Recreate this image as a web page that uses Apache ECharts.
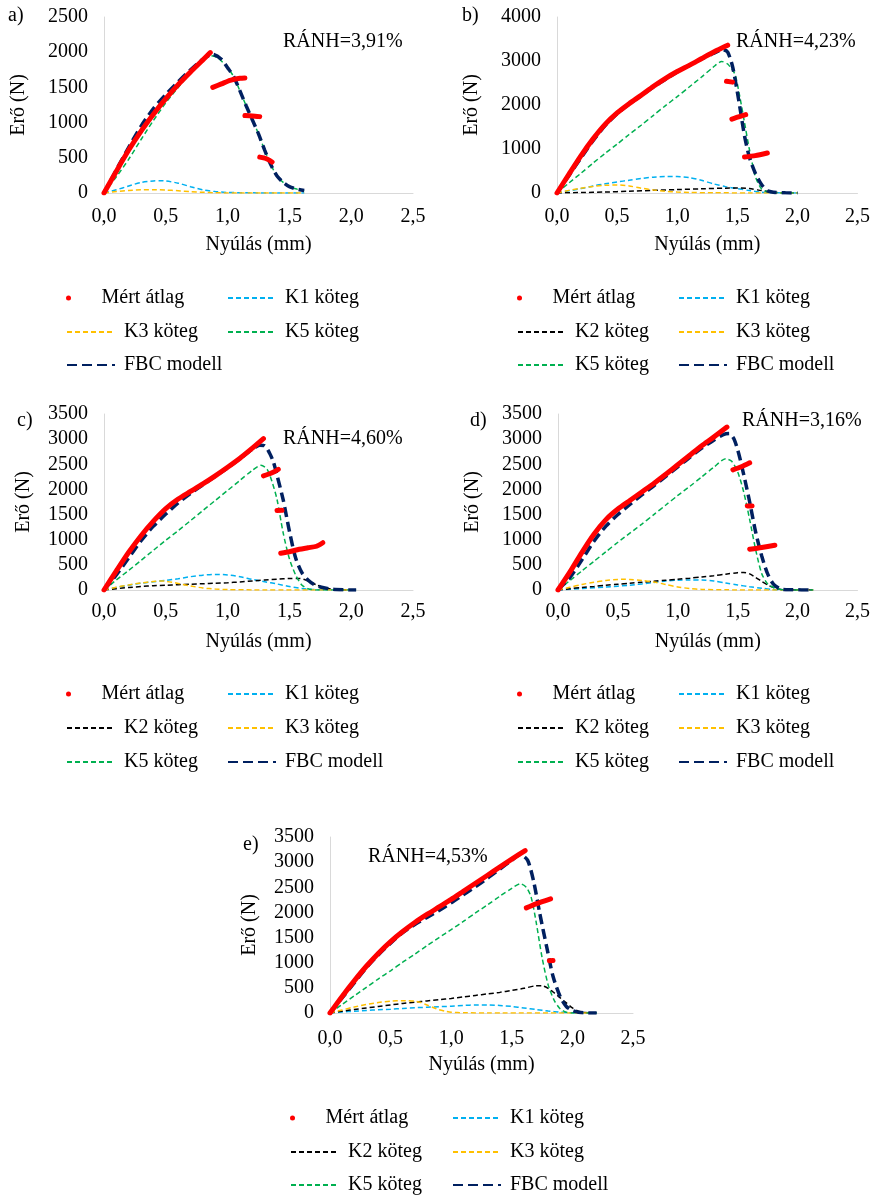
<!DOCTYPE html>
<html><head><meta charset="utf-8">
<script src="https://cdn.jsdelivr.net/npm/echarts@6/dist/echarts.min.js"></script>
<style>html,body{margin:0;padding:0;background:#fff}#c{width:873px;height:1198px}</style>
</head><body><div id="c"></div>
<script>
// ---------- DATA (x: Nyúlás mm, y: Erő N) ----------
const SERIES_NAMES = ['Mért átlag','K1 köteg','K2 köteg','K3 köteg','K5 köteg','FBC modell'];
const PANEL_LABELS = ['a)','b)','c)','d)','e)'];
const RANH_LABELS = ['RÁNH=3,91%','RÁNH=4,23%','RÁNH=4,60%','RÁNH=3,16%','RÁNH=4,53%'];
const X_MAX = 2.5, X_STEP = 0.5;
const Y_MAX = [2500, 4000, 3500, 3500, 3500];
const Y_STEP = [500, 1000, 500, 500, 500];

// Panel a
const A_MERT = [
  [[0,0],[0.1,310],[0.2,610],[0.3,880],[0.4,1120],[0.5,1340],[0.6,1540],[0.7,1720],[0.8,1890],[0.86,1995]],
  [[0.88,1500],[0.95,1550],[1.02,1600],[1.1,1630],[1.14,1635]],
  [[1.14,1100],[1.2,1095],[1.26,1085]],
  [[1.26,510],[1.31,490],[1.36,440]]
];
const A_K1 = [[0,0],[0.1,45],[0.2,100],[0.3,150],[0.4,172],[0.45,175],[0.5,170],[0.6,140],[0.7,90],[0.8,45],[0.9,20],[1.0,8],[1.2,2],[1.62,0]];
const A_K3 = [[0,0],[0.1,20],[0.2,35],[0.3,45],[0.4,47],[0.5,42],[0.6,32],[0.7,20],[0.8,10],[0.9,4],[1.0,1],[1.62,0]];
const A_K5 = [[0,0],[0.1,230],[0.2,480],[0.3,760],[0.4,1030],[0.5,1280],[0.6,1500],[0.7,1700],[0.8,1880],[0.86,1950],[0.92,1920],[1.0,1780],[1.05,1650],[1.1,1450],[1.15,1240],[1.2,1040],[1.25,840],[1.3,610],[1.35,400],[1.4,240],[1.45,150],[1.5,90],[1.56,55],[1.62,30]];
const A_FBC = [[0,0],[0.1,330],[0.2,650],[0.3,950],[0.4,1200],[0.5,1400],[0.6,1580],[0.7,1750],[0.8,1900],[0.88,1970],[0.95,1900],[1.0,1780],[1.05,1650],[1.1,1450],[1.15,1240],[1.2,1040],[1.25,840],[1.3,610],[1.35,400],[1.4,240],[1.45,150],[1.5,90],[1.56,55],[1.62,35]];

// Panel b
const B_MERT = [
  [[0,0],[0.1,430],[0.2,850],[0.3,1230],[0.4,1560],[0.5,1820],[0.6,2030],[0.7,2220],[0.8,2420],[0.9,2600],[1.0,2760],[1.1,2900],[1.2,3050],[1.3,3200],[1.42,3360]],
  [[1.41,2540],[1.46,2520]],
  [[1.455,1680],[1.51,1730],[1.57,1780]],
  [[1.56,820],[1.65,850],[1.75,910]]
];
const B_K1 = [[0,0],[0.1,50],[0.2,100],[0.3,160],[0.4,210],[0.5,250],[0.6,290],[0.7,330],[0.8,360],[0.9,375],[1.0,375],[1.1,350],[1.2,290],[1.3,210],[1.4,145],[1.5,100],[1.6,55],[1.7,20],[1.8,5],[2.0,0]];
const B_K2 = [[0,0],[0.2,10],[0.4,22],[0.6,40],[0.8,60],[1.0,78],[1.2,95],[1.4,110],[1.5,114],[1.6,100],[1.7,55],[1.8,15],[1.9,3],[2.0,0]];
const B_K3 = [[0,0],[0.1,60],[0.2,110],[0.3,150],[0.4,175],[0.5,182],[0.6,160],[0.7,110],[0.8,70],[0.9,40],[1.0,22],[1.1,12],[1.3,5],[1.6,1],[2.0,0]];
const B_K5 = [[0,0],[0.1,230],[0.2,450],[0.3,680],[0.4,900],[0.5,1110],[0.6,1330],[0.7,1540],[0.8,1760],[0.9,1980],[1.0,2190],[1.1,2410],[1.2,2630],[1.3,2860],[1.37,2990],[1.42,2930],[1.48,2700],[1.52,2200],[1.56,1600],[1.6,1000],[1.65,380],[1.7,100],[1.75,30],[1.8,10],[1.85,0],[2.0,0]];
const B_FBC = [[0,0],[0.1,400],[0.2,800],[0.3,1190],[0.4,1530],[0.5,1800],[0.6,2020],[0.7,2210],[0.8,2400],[0.9,2580],[1.0,2750],[1.1,2900],[1.2,3040],[1.3,3170],[1.38,3260],[1.42,3200],[1.46,2880],[1.5,2300],[1.53,1800],[1.56,1300],[1.6,820],[1.65,450],[1.7,200],[1.75,50],[1.8,18],[1.9,5],[2.0,0]];

// Panel c
const C_MERT = [
  [[0,0],[0.1,380],[0.2,750],[0.3,1080],[0.4,1370],[0.5,1620],[0.6,1810],[0.7,1960],[0.8,2110],[0.9,2270],[1.0,2440],[1.1,2620],[1.2,2820],[1.29,3010]],
  [[1.29,2270],[1.35,2320],[1.41,2400]],
  [[1.40,1580],[1.44,1585]],
  [[1.43,730],[1.5,760],[1.58,810],[1.65,840],[1.72,870],[1.77,940]]
];
const C_K1 = [[0,0],[0.1,50],[0.2,95],[0.3,135],[0.4,165],[0.5,190],[0.6,225],[0.7,265],[0.8,295],[0.9,310],[1.0,300],[1.1,265],[1.2,210],[1.3,165],[1.4,120],[1.5,70],[1.6,30],[1.7,8],[1.8,0],[2.04,0]];
const C_K2 = [[0,0],[0.1,25],[0.2,50],[0.3,70],[0.4,85],[0.5,95],[0.6,105],[0.7,115],[0.8,125],[0.9,135],[1.0,145],[1.1,160],[1.2,180],[1.3,200],[1.4,215],[1.5,228],[1.58,230],[1.65,180],[1.72,100],[1.8,35],[1.9,5],[2.04,0]];
const C_K3 = [[0,0],[0.1,55],[0.2,100],[0.3,140],[0.4,170],[0.45,180],[0.5,175],[0.6,130],[0.7,80],[0.8,40],[0.9,18],[1.0,8],[1.2,2],[2.04,0]];
const C_K5 = [[0,0],[0.1,200],[0.2,390],[0.3,590],[0.4,790],[0.5,990],[0.6,1180],[0.7,1380],[0.8,1580],[0.9,1780],[1.0,1980],[1.1,2180],[1.2,2380],[1.27,2480],[1.32,2400],[1.36,2150],[1.4,1800],[1.45,1130],[1.5,620],[1.55,300],[1.6,100],[1.65,25],[1.72,0],[2.04,0]];
const C_FBC = [[0,0],[0.1,300],[0.2,640],[0.3,980],[0.4,1270],[0.5,1510],[0.6,1730],[0.7,1920],[0.8,2090],[0.9,2260],[1.0,2430],[1.1,2610],[1.2,2800],[1.26,2880],[1.3,2870],[1.34,2720],[1.37,2550],[1.4,2280],[1.45,1790],[1.5,1170],[1.55,640],[1.6,350],[1.65,200],[1.7,110],[1.75,60],[1.85,15],[1.95,3],[2.04,0]];

// Panel d
const D_MERT = [
  [[0,0],[0.1,360],[0.2,750],[0.3,1110],[0.4,1400],[0.5,1610],[0.6,1780],[0.7,1950],[0.8,2120],[0.9,2300],[1.0,2490],[1.1,2680],[1.2,2870],[1.3,3040],[1.41,3240]],
  [[1.46,2390],[1.53,2450],[1.6,2530]],
  [[1.58,1670],[1.62,1672]],
  [[1.6,810],[1.7,845],[1.81,890]]
];
const D_K1 = [[0,0],[0.2,30],[0.4,60],[0.6,95],[0.8,150],[0.9,180],[1.0,195],[1.1,200],[1.2,198],[1.3,180],[1.4,140],[1.5,100],[1.6,65],[1.7,35],[1.8,10],[1.9,0],[2.13,0]];
const D_K2 = [[0,0],[0.1,25],[0.2,50],[0.3,70],[0.4,95],[0.5,115],[0.6,135],[0.7,155],[0.8,175],[0.9,195],[1.0,215],[1.1,235],[1.2,260],[1.3,285],[1.4,315],[1.5,345],[1.55,350],[1.6,320],[1.65,250],[1.7,170],[1.75,100],[1.8,50],[1.85,15],[1.9,0],[2.13,0]];
const D_K3 = [[0,0],[0.1,55],[0.2,110],[0.3,155],[0.4,190],[0.5,210],[0.55,215],[0.6,210],[0.7,190],[0.8,160],[0.9,110],[1.0,60],[1.1,30],[1.2,12],[1.4,3],[2.13,0]];
const D_K5 = [[0,0],[0.1,190],[0.2,380],[0.3,570],[0.4,760],[0.5,950],[0.6,1130],[0.7,1310],[0.8,1500],[0.9,1690],[1.0,1880],[1.1,2060],[1.2,2250],[1.3,2440],[1.4,2610],[1.45,2560],[1.5,2350],[1.55,1950],[1.6,1400],[1.65,800],[1.7,330],[1.75,120],[1.8,50],[1.88,5],[2.13,0]];
const D_FBC = [[0,0],[0.1,250],[0.2,600],[0.3,970],[0.4,1270],[0.5,1500],[0.6,1700],[0.7,1890],[0.8,2070],[0.9,2260],[1.0,2450],[1.1,2640],[1.2,2820],[1.3,2980],[1.38,3090],[1.43,3110],[1.47,3000],[1.51,2700],[1.56,2190],[1.6,1750],[1.65,1150],[1.7,680],[1.75,320],[1.8,110],[1.86,20],[1.95,5],[2.13,0]];

// Panel e
const E_MERT = [
  [[0,0],[0.1,330],[0.2,640],[0.3,930],[0.4,1190],[0.5,1420],[0.6,1620],[0.7,1800],[0.8,1960],[0.9,2110],[1.0,2260],[1.1,2420],[1.2,2580],[1.3,2740],[1.4,2900],[1.5,3060],[1.61,3230]],
  [[1.62,2090],[1.7,2170],[1.82,2270]],
  [[1.81,1040],[1.84,1045]]
];
const E_K1 = [[0,0],[0.1,20],[0.2,35],[0.3,50],[0.4,65],[0.5,75],[0.6,90],[0.7,105],[0.8,115],[0.9,125],[1.0,135],[1.1,150],[1.2,160],[1.3,160],[1.4,150],[1.5,130],[1.6,100],[1.7,70],[1.8,40],[1.9,15],[2.0,3],[2.2,0]];
const E_K2 = [[0,0],[0.1,35],[0.2,70],[0.3,100],[0.4,130],[0.5,160],[0.6,190],[0.7,215],[0.8,240],[0.9,265],[1.0,290],[1.1,320],[1.2,350],[1.3,380],[1.4,410],[1.5,450],[1.6,490],[1.7,540],[1.75,540],[1.8,490],[1.85,400],[1.9,300],[1.95,200],[2.0,100],[2.05,35],[2.1,10],[2.2,0]];
const E_K3 = [[0,0],[0.1,60],[0.2,120],[0.3,170],[0.4,210],[0.5,235],[0.6,245],[0.7,235],[0.75,210],[0.8,160],[0.85,110],[0.9,65],[0.95,35],[1.0,15],[1.1,5],[1.3,0],[2.2,0]];
const E_K5 = [[0,0],[0.1,170],[0.2,340],[0.3,510],[0.4,680],[0.5,840],[0.6,1010],[0.7,1170],[0.8,1340],[0.9,1500],[1.0,1660],[1.1,1820],[1.2,1990],[1.3,2150],[1.4,2320],[1.5,2480],[1.57,2570],[1.62,2500],[1.66,2300],[1.7,1820],[1.75,1100],[1.8,560],[1.85,250],[1.9,80],[1.95,15],[2.0,0],[2.2,0]];
const E_FBC = [[0,0],[0.1,300],[0.2,600],[0.3,900],[0.4,1160],[0.5,1390],[0.6,1600],[0.7,1760],[0.8,1900],[0.9,2040],[1.0,2190],[1.1,2350],[1.2,2510],[1.3,2680],[1.4,2860],[1.5,3040],[1.57,3150],[1.63,3040],[1.68,2620],[1.73,1990],[1.79,1290],[1.84,730],[1.9,320],[1.95,130],[2.0,50],[2.05,15],[2.1,3],[2.2,0]];

// ---------- LAYOUT / STYLE ----------
const FONT = "'Liberation Serif','Times New Roman',serif";
const COLORS = {'Mért átlag':'#FF0000','K1 köteg':'#00B0F0','K2 köteg':'#000000','K3 köteg':'#FFC000','K5 köteg':'#00B050','FBC modell':'#002060'};

const PANELS = [
  {grid:{left:104,top:17,width:309,height:176}, yNameGap:75, xLabelMargin:14,
   data:{'Mért átlag':A_MERT,'K1 köteg':A_K1,'K3 köteg':A_K3,'K5 köteg':A_K5,'FBC modell':A_FBC},
   label:[8,17], ranh:[283,43],
   legendCols:[66,227], legendRows:[298,332,365],
   legendItems:[['Mért átlag','K1 köteg'],['K3 köteg','K5 köteg'],['FBC modell']]},
  {grid:{left:557,top:17,width:302,height:176}, yNameGap:75, xLabelMargin:14,
   data:{'Mért átlag':B_MERT,'K1 köteg':B_K1,'K2 köteg':B_K2,'K3 köteg':B_K3,'K5 köteg':B_K5,'FBC modell':B_FBC},
   label:[462,17], ranh:[736,43],
   legendCols:[517,678], legendRows:[298,332,365],
   legendItems:[['Mért átlag','K1 köteg'],['K2 köteg','K3 köteg'],['K5 köteg','FBC modell']]},
  {grid:{left:104,top:414,width:309,height:176}, yNameGap:70, xLabelMargin:12,
   data:{'Mért átlag':C_MERT,'K1 köteg':C_K1,'K2 köteg':C_K2,'K3 köteg':C_K3,'K5 köteg':C_K5,'FBC modell':C_FBC},
   label:[17,422], ranh:[283,440],
   legendCols:[66,227], legendRows:[694,728,762],
   legendItems:[['Mért átlag','K1 köteg'],['K2 köteg','K3 köteg'],['K5 köteg','FBC modell']]},
  {grid:{left:558,top:414,width:302,height:176}, yNameGap:75, xLabelMargin:12,
   data:{'Mért átlag':D_MERT,'K1 köteg':D_K1,'K2 köteg':D_K2,'K3 köteg':D_K3,'K5 köteg':D_K5,'FBC modell':D_FBC},
   label:[470,422], ranh:[742,422],
   legendCols:[517,678], legendRows:[694,728,762],
   legendItems:[['Mért átlag','K1 köteg'],['K2 köteg','K3 köteg'],['K5 köteg','FBC modell']]},
  {grid:{left:330,top:837,width:303,height:176}, yNameGap:70, xLabelMargin:16,
   data:{'Mért átlag':E_MERT,'K1 köteg':E_K1,'K2 köteg':E_K2,'K3 köteg':E_K3,'K5 köteg':E_K5,'FBC modell':E_FBC},
   label:[243,846], ranh:[368,858],
   legendCols:[290,452], legendRows:[1118,1152,1185],
   legendItems:[['Mért átlag','K1 köteg'],['K2 köteg','K3 köteg'],['K5 köteg','FBC modell']]}
];

const grids = [], xAxes = [], yAxes = [], series = [], legends = [], graphics = [];
PANELS.forEach((p, i) => {
  grids.push(Object.assign({containLabel:false}, p.grid));
  xAxes.push({
    type:'value', gridIndex:i, min:0, max:X_MAX, interval:X_STEP,
    name:'Nyúlás (mm)', nameLocation:'middle', nameGap:42,
    nameTextStyle:{fontFamily:FONT, fontSize:20, color:'#000'},
    axisLine:{show:true, onZero:false, lineStyle:{color:'#D9D9D9', width:1}},
    axisTick:{show:false}, splitLine:{show:false},
    axisLabel:{fontFamily:FONT, fontSize:20, color:'#000', margin:p.xLabelMargin,
      formatter:v => v.toFixed(1).replace('.', ',')}
  });
  yAxes.push({
    type:'value', gridIndex:i, min:0, max:Y_MAX[i], interval:Y_STEP[i],
    name:'Erő (N)', nameLocation:'middle', nameRotate:90, nameGap:p.yNameGap,
    nameTextStyle:{fontFamily:FONT, fontSize:20, color:'#000'},
    axisLine:{show:true, lineStyle:{color:'#D9D9D9', width:1}},
    axisTick:{show:false}, splitLine:{show:false},
    axisLabel:{fontFamily:FONT, fontSize:20, color:'#000', margin:16, formatter:v => String(v)}
  });
  const order = ['K1 köteg','K2 köteg','K3 köteg','K5 köteg','FBC modell'];
  order.forEach(name => {
    if (!p.data[name]) return;
    const isFbc = name === 'FBC modell';
    series.push({
      type:'line', name, xAxisIndex:i, yAxisIndex:i, data:p.data[name],
      symbol:'none', smooth:0.25, z: isFbc ? 4 : 3,
      itemStyle:{color:COLORS[name]},
      lineStyle:{color:COLORS[name], width: isFbc ? 3.5 : 1.5, type: isFbc ? [10,5] : [5,3]}
    });
  });
  p.data['Mért átlag'].forEach(seg => {
    series.push({
      type:'line', name:'Mért átlag', xAxisIndex:i, yAxisIndex:i, data:seg,
      symbol:'none', smooth:0.25, z:5,
      itemStyle:{color:COLORS['Mért átlag']},
      lineStyle:{color:COLORS['Mért átlag'], width:5, cap:'round', join:'round'}
    });
  });
  // legend: one component per item so columns line up
  p.legendItems.forEach((row, r) => {
    row.forEach((name, c) => {
      const isDot = name === 'Mért átlag';
      legends.push({
        data:[isDot ? {name, icon:'circle'} : name],
        left:p.legendCols[c], top:p.legendRows[r] - 11,
        orient:'horizontal', padding:0, itemGap:0, itemWidth:48, itemHeight:isDot ? 5 : 4,
        selectedMode:false,
        itemStyle: isDot ? {} : {opacity:0},
        textStyle:{fontFamily:FONT, fontSize:20, color:'#000', lineHeight:22, padding:[0,0,0,4]}
      });
    });
  });
  graphics.push({type:'text', left:p.label[0], top:p.label[1] - 11,
    style:{text:PANEL_LABELS[i], fontFamily:FONT, fontSize:20, fill:'#000'}});
  graphics.push({type:'text', left:p.ranh[0], top:p.ranh[1] - 11,
    style:{text:RANH_LABELS[i], fontFamily:FONT, fontSize:20, fill:'#000'}});
});

const chart = echarts.init(document.getElementById('c'), null, {renderer:'canvas'});
chart.setOption({
  animation:false, backgroundColor:'#fff',
  grid:grids, xAxis:xAxes, yAxis:yAxes, series, legend:legends, graphic:graphics
});
</script></body></html>
